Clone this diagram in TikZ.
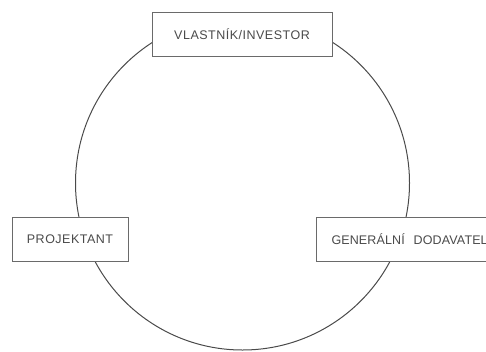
\documentclass[tikz,border=0pt]{standalone}
\usepackage{fontspec}
\setmainfont{Liberation Sans}[LetterSpace=4]
\definecolor{ink}{HTML}{4A4A4A}
\definecolor{frame}{HTML}{6A6A6A}
\begin{document}
\begin{tikzpicture}[x=1pt,y=-1pt,
  role/.style={draw=frame,line width=1pt,fill=white,text=ink,
    font=\fontsize{12.5}{14}\selectfont,inner sep=0pt,minimum height=44pt}]
\useasboundingbox (0,0) rectangle (486,351);
\clip (0,0) rectangle (486,351);
% the cycle linking the three parties
\node (ring) [draw=ink,line width=1pt,circle,minimum size=334pt,inner sep=0pt] at (242.5,183) {};
% parties
\node (owner) [role,minimum width=180pt] at (242,34.5) {VLASTNÍK/INVESTOR};
\node (designer) [role,minimum width=116pt] at (70,239) {PROJEKTANT};
\node (contractor) [role,anchor=west,text width=200pt,inner xsep=15pt,align=left,
  font=\fontsize{12.5}{14}\selectfont\addfontfeature{LetterSpace=1}] at (316,239)
  {GENERÁLNÍ\hspace{9pt}DODAVATEL};
\end{tikzpicture}
\end{document}
